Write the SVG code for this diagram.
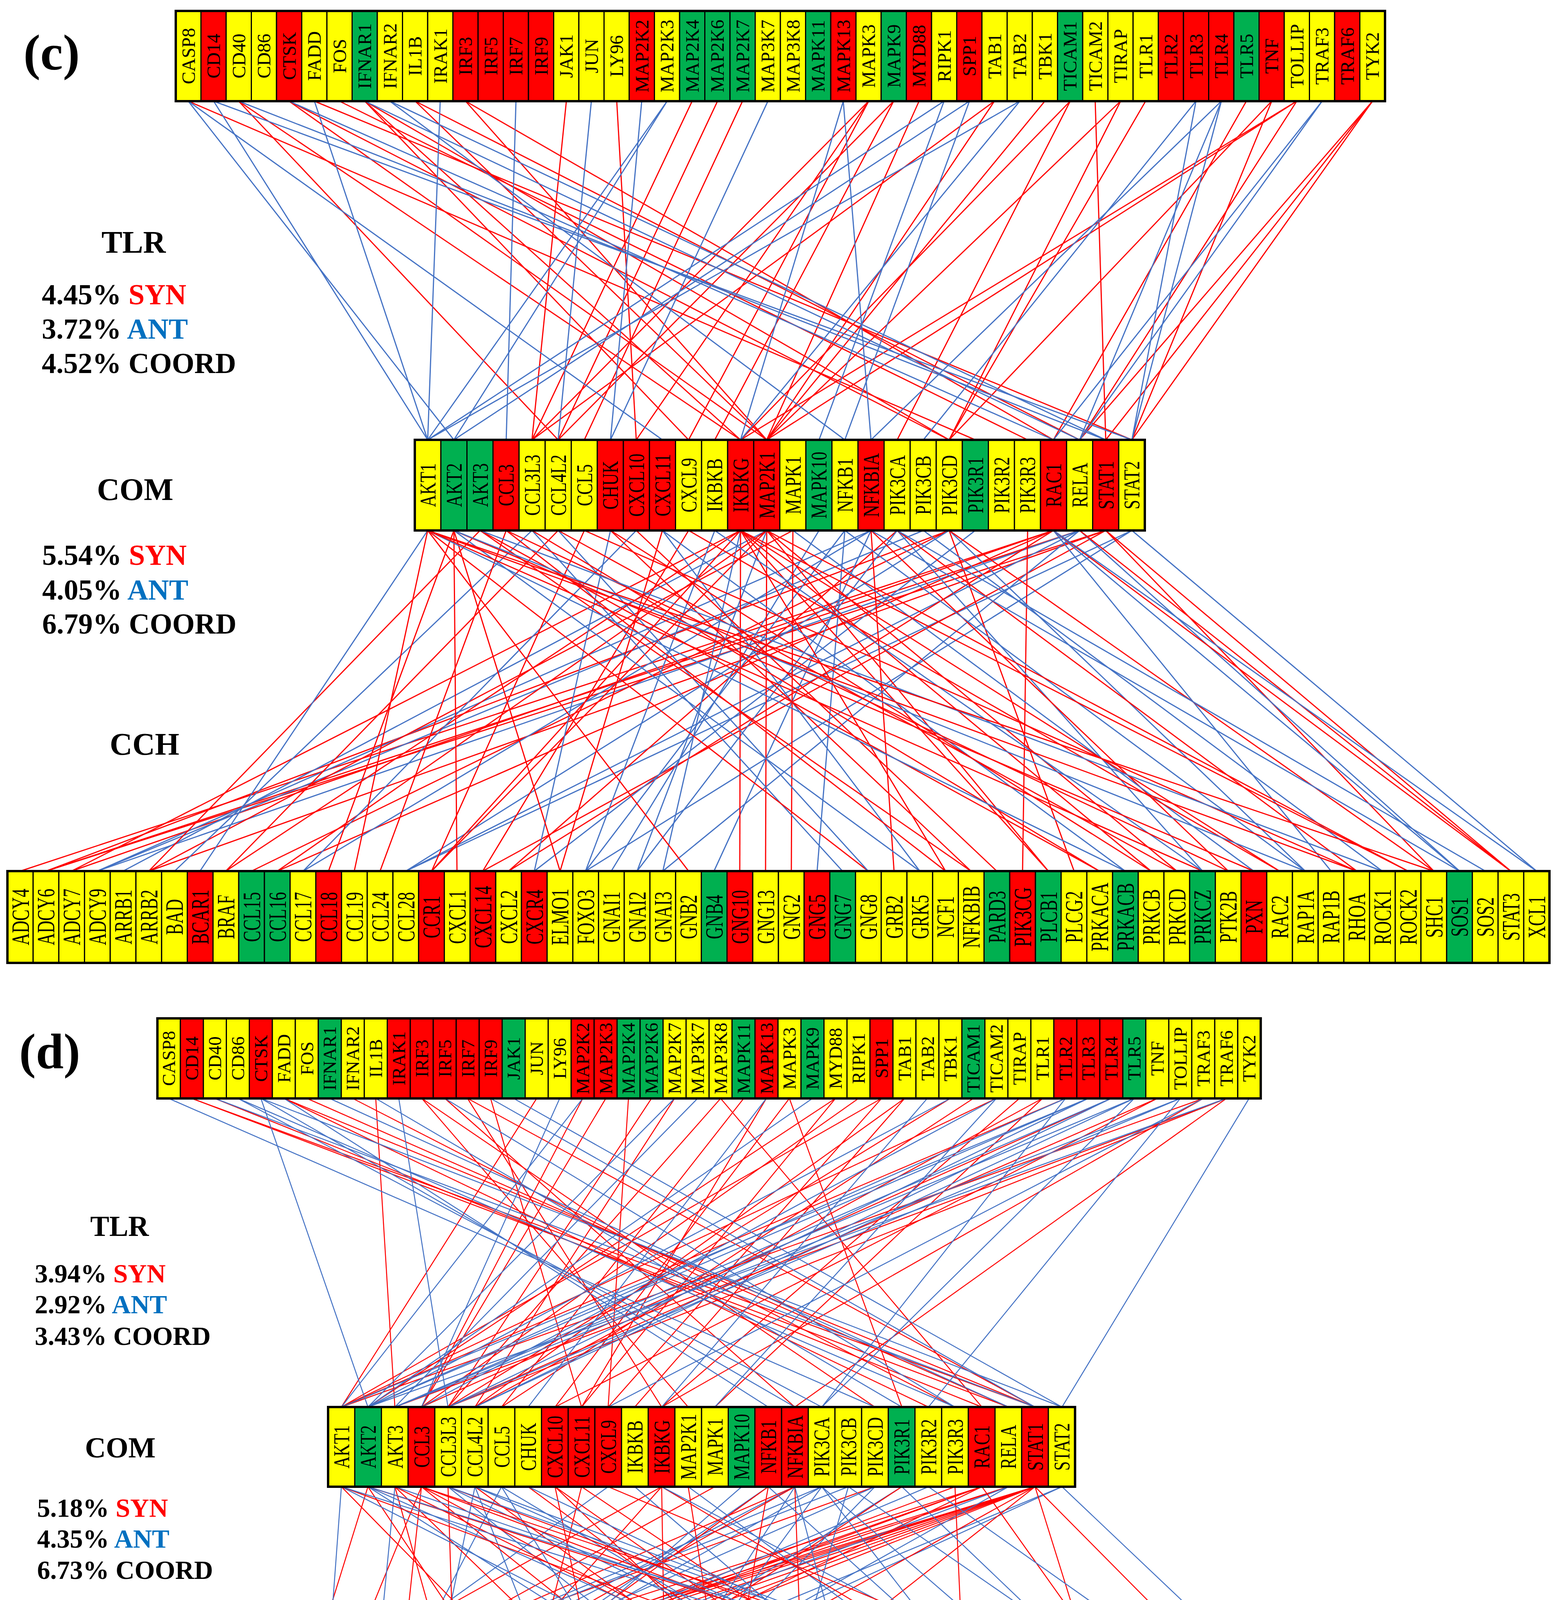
<svg xmlns="http://www.w3.org/2000/svg" width="3994" height="4824" viewBox="0 0 3994 4824">
<defs>
<style>
.y{fill:#FFFF00;stroke:#000;stroke-width:3}.r{fill:#FF0000;stroke:#000;stroke-width:3}.g{fill:#00B050;stroke:#000;stroke-width:3}
.frame{fill:none;stroke:#000;stroke-width:6}
text{font-family:"Liberation Serif","Times New Roman",serif;fill:#000}
.n{text-anchor:middle;dominant-baseline:central}
.t1{font-size:48px}.t2{font-size:58px}.t3{font-size:64px}.t4{font-size:47px}.t5{font-size:58px}.t6{font-size:54px}
.h{font-weight:bold;text-anchor:middle}
.st{font-weight:bold}
.syn{fill:#FF0000}.ant{fill:#0070C0}
line{fill:none}
.s{stroke:#FF0000;stroke-width:3}.a{stroke:#4472C4;stroke-width:3}
.s2{stroke:#FF0000;stroke-width:2.5}.a2{stroke:#4472C4;stroke-width:2.5}
</style>
</defs>

<g id="connectors">
<g id="c-upper">
<line class="s" x1="482" y1="259" x2="2497" y2="1126"/>
<line class="s" x1="611" y1="259" x2="1429" y2="1126"/>
<line class="s" x1="611" y1="259" x2="1896" y2="1126"/>
<line class="s" x1="740" y1="259" x2="1963" y2="1126"/>
<line class="s" x1="740" y1="259" x2="2430" y2="1126"/>
<line class="s" x1="805" y1="259" x2="2898" y2="1126"/>
<line class="s" x1="869" y1="259" x2="2631" y2="1126"/>
<line class="s" x1="934" y1="259" x2="1896" y2="1126"/>
<line class="s" x1="934" y1="259" x2="2430" y2="1126"/>
<line class="s" x1="934" y1="259" x2="1763" y2="1126"/>
<line class="s" x1="1063" y1="259" x2="1963" y2="1126"/>
<line class="s" x1="1063" y1="259" x2="2764" y2="1126"/>
<line class="s" x1="1192" y1="259" x2="1963" y2="1126"/>
<line class="s" x1="1192" y1="259" x2="2697" y2="1126"/>
<line class="s" x1="1450" y1="259" x2="1362" y2="1126"/>
<line class="s" x1="1579" y1="259" x2="1629" y2="1126"/>
<line class="s" x1="1772" y1="259" x2="1362" y2="1126"/>
<line class="s" x1="1837" y1="259" x2="1429" y2="1126"/>
<line class="s" x1="1901" y1="259" x2="1496" y2="1126"/>
<line class="s" x1="2224" y1="259" x2="1763" y2="1126"/>
<line class="s" x1="2224" y1="259" x2="1362" y2="1126"/>
<line class="s" x1="2224" y1="259" x2="1629" y2="1126"/>
<line class="s" x1="2288" y1="259" x2="1830" y2="1126"/>
<line class="s" x1="2288" y1="259" x2="1429" y2="1126"/>
<line class="s" x1="2353" y1="259" x2="1963" y2="1126"/>
<line class="s" x1="2546" y1="259" x2="1963" y2="1126"/>
<line class="s" x1="2546" y1="259" x2="1362" y2="1126"/>
<line class="s" x1="2675" y1="259" x2="1963" y2="1126"/>
<line class="s" x1="2740" y1="259" x2="1896" y2="1126"/>
<line class="s" x1="2740" y1="259" x2="2297" y2="1126"/>
<line class="s" x1="2804" y1="259" x2="2831" y2="1126"/>
<line class="s" x1="2869" y1="259" x2="2430" y2="1126"/>
<line class="s" x1="2869" y1="259" x2="1963" y2="1126"/>
<line class="s" x1="2933" y1="259" x2="2430" y2="1126"/>
<line class="s" x1="3191" y1="259" x2="2697" y2="1126"/>
<line class="s" x1="3256" y1="259" x2="2430" y2="1126"/>
<line class="s" x1="3256" y1="259" x2="2898" y2="1126"/>
<line class="s" x1="3320" y1="259" x2="2764" y2="1126"/>
<line class="s" x1="3320" y1="259" x2="1963" y2="1126"/>
<line class="s" x1="3320" y1="259" x2="1896" y2="1126"/>
<line class="s" x1="3514" y1="259" x2="2831" y2="1126"/>
<line class="s" x1="3514" y1="259" x2="2764" y2="1126"/>
<line class="s" x1="3514" y1="259" x2="2898" y2="1126"/>
<line class="a" x1="482" y1="259" x2="1162" y2="1126"/>
<line class="a" x1="482" y1="259" x2="1696" y2="1126"/>
<line class="a" x1="547" y1="259" x2="1095" y2="1126"/>
<line class="a" x1="547" y1="259" x2="2898" y2="1126"/>
<line class="a" x1="611" y1="259" x2="2831" y2="1126"/>
<line class="a" x1="740" y1="259" x2="2697" y2="1126"/>
<line class="a" x1="805" y1="259" x2="1095" y2="1126"/>
<line class="a" x1="934" y1="259" x2="2764" y2="1126"/>
<line class="a" x1="998" y1="259" x2="2831" y2="1126"/>
<line class="a" x1="998" y1="259" x2="2163" y2="1126"/>
<line class="a" x1="1127" y1="259" x2="1095" y2="1126"/>
<line class="a" x1="1321" y1="259" x2="1296" y2="1126"/>
<line class="a" x1="1514" y1="259" x2="1429" y2="1126"/>
<line class="a" x1="1643" y1="259" x2="1563" y2="1126"/>
<line class="a" x1="1708" y1="259" x2="1162" y2="1126"/>
<line class="a" x1="1708" y1="259" x2="1095" y2="1126"/>
<line class="a" x1="1966" y1="259" x2="1563" y2="1126"/>
<line class="a" x1="2159" y1="259" x2="1896" y2="1126"/>
<line class="a" x1="2159" y1="259" x2="2230" y2="1126"/>
<line class="a" x1="2417" y1="259" x2="1095" y2="1126"/>
<line class="a" x1="2417" y1="259" x2="2097" y2="1126"/>
<line class="a" x1="2482" y1="259" x2="1162" y2="1126"/>
<line class="a" x1="2482" y1="259" x2="2163" y2="1126"/>
<line class="a" x1="2611" y1="259" x2="1896" y2="1126"/>
<line class="a" x1="2611" y1="259" x2="1095" y2="1126"/>
<line class="a" x1="3062" y1="259" x2="2898" y2="1126"/>
<line class="a" x1="3062" y1="259" x2="2364" y2="1126"/>
<line class="a" x1="3127" y1="259" x2="2898" y2="1126"/>
<line class="a" x1="3127" y1="259" x2="2764" y2="1126"/>
<line class="a" x1="3127" y1="259" x2="2230" y2="1126"/>
<line class="a" x1="3385" y1="259" x2="2697" y2="1126"/>
<line class="a" x1="3385" y1="259" x2="2764" y2="1126"/>
</g>
<g id="c-lower">
<line class="s" x1="2697" y1="1358" x2="52" y2="2230"/>
<line class="s" x1="2831" y1="1358" x2="118" y2="2230"/>
<line class="s" x1="2764" y1="1358" x2="118" y2="2230"/>
<line class="s" x1="2430" y1="1358" x2="118" y2="2230"/>
<line class="s" x1="2697" y1="1358" x2="183" y2="2230"/>
<line class="s" x1="1896" y1="1358" x2="183" y2="2230"/>
<line class="a" x1="2364" y1="1358" x2="249" y2="2230"/>
<line class="a" x1="2230" y1="1358" x2="249" y2="2230"/>
<line class="a" x1="2764" y1="1358" x2="249" y2="2230"/>
<line class="a" x1="1963" y1="1358" x2="315" y2="2230"/>
<line class="s" x1="2831" y1="1358" x2="381" y2="2230"/>
<line class="s" x1="2030" y1="1358" x2="381" y2="2230"/>
<line class="s" x1="1229" y1="1358" x2="381" y2="2230"/>
<line class="a" x1="1362" y1="1358" x2="447" y2="2230"/>
<line class="a" x1="1095" y1="1358" x2="512" y2="2230"/>
<line class="s" x1="1896" y1="1358" x2="578" y2="2230"/>
<line class="s" x1="1429" y1="1358" x2="578" y2="2230"/>
<line class="s" x1="2430" y1="1358" x2="644" y2="2230"/>
<line class="s" x1="2697" y1="1358" x2="710" y2="2230"/>
<line class="s" x1="1963" y1="1358" x2="710" y2="2230"/>
<line class="a" x1="2230" y1="1358" x2="776" y2="2230"/>
<line class="a" x1="1629" y1="1358" x2="776" y2="2230"/>
<line class="s" x1="1162" y1="1358" x2="841" y2="2230"/>
<line class="s" x1="1095" y1="1358" x2="907" y2="2230"/>
<line class="s" x1="1296" y1="1358" x2="973" y2="2230"/>
<line class="a" x1="2430" y1="1358" x2="1039" y2="2230"/>
<line class="a" x1="2764" y1="1358" x2="1039" y2="2230"/>
<line class="a" x1="2898" y1="1358" x2="1039" y2="2230"/>
<line class="s" x1="1963" y1="1358" x2="1105" y2="2230"/>
<line class="s" x1="1896" y1="1358" x2="1105" y2="2230"/>
<line class="s" x1="1496" y1="1358" x2="1105" y2="2230"/>
<line class="s" x1="1162" y1="1358" x2="1170" y2="2230"/>
<line class="s" x1="2831" y1="1358" x2="1236" y2="2230"/>
<line class="s" x1="1763" y1="1358" x2="1236" y2="2230"/>
<line class="s" x1="2297" y1="1358" x2="1302" y2="2230"/>
<line class="s" x1="2697" y1="1358" x2="1302" y2="2230"/>
<line class="a" x1="1563" y1="1358" x2="1368" y2="2230"/>
<line class="a" x1="2497" y1="1358" x2="1368" y2="2230"/>
<line class="s" x1="1162" y1="1358" x2="1434" y2="2230"/>
<line class="s" x1="1696" y1="1358" x2="1434" y2="2230"/>
<line class="a" x1="2163" y1="1358" x2="1499" y2="2230"/>
<line class="a" x1="2898" y1="1358" x2="1499" y2="2230"/>
<line class="a" x1="1830" y1="1358" x2="1499" y2="2230"/>
<line class="a" x1="2097" y1="1358" x2="1565" y2="2230"/>
<line class="a" x1="2297" y1="1358" x2="1631" y2="2230"/>
<line class="a" x1="1963" y1="1358" x2="1631" y2="2230"/>
<line class="a" x1="2764" y1="1358" x2="1697" y2="2230"/>
<line class="a" x1="1896" y1="1358" x2="1697" y2="2230"/>
<line class="s" x1="1095" y1="1358" x2="1763" y2="2230"/>
<line class="a" x1="2230" y1="1358" x2="1828" y2="2230"/>
<line class="s" x1="1896" y1="1358" x2="1894" y2="2230"/>
<line class="s" x1="1963" y1="1358" x2="1960" y2="2230"/>
<line class="s" x1="2030" y1="1358" x2="2026" y2="2230"/>
<line class="a" x1="2163" y1="1358" x2="2092" y2="2230"/>
<line class="a" x1="1362" y1="1358" x2="2157" y2="2230"/>
<line class="s" x1="1095" y1="1358" x2="2223" y2="2230"/>
<line class="a" x1="1429" y1="1358" x2="2223" y2="2230"/>
<line class="s" x1="2230" y1="1358" x2="2289" y2="2230"/>
<line class="a" x1="1162" y1="1358" x2="2355" y2="2230"/>
<line class="a" x1="1696" y1="1358" x2="2355" y2="2230"/>
<line class="s" x1="1296" y1="1358" x2="2421" y2="2230"/>
<line class="s" x1="1896" y1="1358" x2="2421" y2="2230"/>
<line class="s" x1="1229" y1="1358" x2="2486" y2="2230"/>
<line class="s" x1="1563" y1="1358" x2="2486" y2="2230"/>
<line class="s" x1="1629" y1="1358" x2="2552" y2="2230"/>
<line class="s" x1="2631" y1="1358" x2="2618" y2="2230"/>
<line class="s" x1="1963" y1="1358" x2="2684" y2="2230"/>
<line class="s" x1="1896" y1="1358" x2="2684" y2="2230"/>
<line class="s" x1="2430" y1="1358" x2="2750" y2="2230"/>
<line class="s" x1="1362" y1="1358" x2="2815" y2="2230"/>
<line class="s" x1="1229" y1="1358" x2="2815" y2="2230"/>
<line class="a" x1="1095" y1="1358" x2="2881" y2="2230"/>
<line class="a" x1="1696" y1="1358" x2="2881" y2="2230"/>
<line class="s" x1="1896" y1="1358" x2="2947" y2="2230"/>
<line class="s" x1="1563" y1="1358" x2="2947" y2="2230"/>
<line class="s" x1="1963" y1="1358" x2="3013" y2="2230"/>
<line class="s" x1="1429" y1="1358" x2="3013" y2="2230"/>
<line class="a" x1="2297" y1="1358" x2="3079" y2="2230"/>
<line class="s" x1="1095" y1="1358" x2="3079" y2="2230"/>
<line class="a" x1="1830" y1="1358" x2="3079" y2="2230"/>
<line class="s" x1="1296" y1="1358" x2="3145" y2="2230"/>
<line class="s" x1="2230" y1="1358" x2="3145" y2="2230"/>
<line class="a" x1="2030" y1="1358" x2="3210" y2="2230"/>
<line class="s" x1="1162" y1="1358" x2="3210" y2="2230"/>
<line class="s" x1="1763" y1="1358" x2="3276" y2="2230"/>
<line class="s" x1="1896" y1="1358" x2="3276" y2="2230"/>
<line class="a" x1="2430" y1="1358" x2="3342" y2="2230"/>
<line class="a" x1="2163" y1="1358" x2="3342" y2="2230"/>
<line class="a" x1="1162" y1="1358" x2="3342" y2="2230"/>
<line class="a" x1="2697" y1="1358" x2="3408" y2="2230"/>
<line class="s" x1="1095" y1="1358" x2="3474" y2="2230"/>
<line class="s" x1="2297" y1="1358" x2="3474" y2="2230"/>
<line class="s" x1="1496" y1="1358" x2="3474" y2="2230"/>
<line class="a" x1="2364" y1="1358" x2="3539" y2="2230"/>
<line class="a" x1="1229" y1="1358" x2="3539" y2="2230"/>
<line class="s" x1="1896" y1="1358" x2="3605" y2="2230"/>
<line class="s" x1="1963" y1="1358" x2="3605" y2="2230"/>
<line class="s" x1="1095" y1="1358" x2="3671" y2="2230"/>
<line class="s" x1="2831" y1="1358" x2="3671" y2="2230"/>
<line class="s" x1="2430" y1="1358" x2="3671" y2="2230"/>
<line class="a" x1="2697" y1="1358" x2="3737" y2="2230"/>
<line class="a" x1="2764" y1="1358" x2="3737" y2="2230"/>
<line class="a" x1="2230" y1="1358" x2="3737" y2="2230"/>
<line class="a" x1="2297" y1="1358" x2="3803" y2="2230"/>
<line class="s" x1="2764" y1="1358" x2="3868" y2="2230"/>
<line class="s" x1="2831" y1="1358" x2="3868" y2="2230"/>
<line class="s" x1="2697" y1="1358" x2="3868" y2="2230"/>
<line class="a" x1="2898" y1="1358" x2="3934" y2="2230"/>
<line class="a" x1="2697" y1="1358" x2="3934" y2="2230"/>
</g>
<g id="d-upper">
<line class="s2" x1="491" y1="2812" x2="2582" y2="3602"/>
<line class="s2" x1="491" y1="2812" x2="2650" y2="3602"/>
<line class="s2" x1="550" y1="2812" x2="2514" y2="3602"/>
<line class="s2" x1="727" y1="2812" x2="2377" y2="3602"/>
<line class="s2" x1="727" y1="2812" x2="2650" y2="3602"/>
<line class="s2" x1="786" y1="2812" x2="2582" y2="3602"/>
<line class="s2" x1="903" y1="2812" x2="2445" y2="3602"/>
<line class="s2" x1="962" y1="2812" x2="1011" y2="3602"/>
<line class="s2" x1="1080" y1="2812" x2="1762" y2="3602"/>
<line class="s2" x1="1080" y1="2812" x2="2240" y2="3602"/>
<line class="s2" x1="1139" y1="2812" x2="2035" y2="3602"/>
<line class="s2" x1="1197" y1="2812" x2="1694" y2="3602"/>
<line class="s2" x1="1197" y1="2812" x2="2650" y2="3602"/>
<line class="s2" x1="1256" y1="2812" x2="1489" y2="3602"/>
<line class="s2" x1="1374" y1="2812" x2="874" y2="3602"/>
<line class="s2" x1="1492" y1="2812" x2="1079" y2="3602"/>
<line class="s2" x1="1551" y1="2812" x2="1079" y2="3602"/>
<line class="s2" x1="1609" y1="2812" x2="1557" y2="3602"/>
<line class="s2" x1="1668" y1="2812" x2="1147" y2="3602"/>
<line class="s2" x1="1727" y1="2812" x2="1216" y2="3602"/>
<line class="s2" x1="1845" y1="2812" x2="1147" y2="3602"/>
<line class="s2" x1="1845" y1="2812" x2="2514" y2="3602"/>
<line class="s2" x1="1904" y1="2812" x2="1284" y2="3602"/>
<line class="s2" x1="1962" y1="2812" x2="1489" y2="3602"/>
<line class="s2" x1="2021" y1="2812" x2="1421" y2="3602"/>
<line class="s2" x1="2021" y1="2812" x2="2309" y2="3602"/>
<line class="s2" x1="2139" y1="2812" x2="1489" y2="3602"/>
<line class="s2" x1="2139" y1="2812" x2="942" y2="3602"/>
<line class="s2" x1="2198" y1="2812" x2="1079" y2="3602"/>
<line class="s2" x1="2257" y1="2812" x2="874" y2="3602"/>
<line class="s2" x1="2257" y1="2812" x2="1557" y2="3602"/>
<line class="s2" x1="2316" y1="2812" x2="1625" y2="3602"/>
<line class="s2" x1="2316" y1="2812" x2="1216" y2="3602"/>
<line class="s2" x1="2433" y1="2812" x2="1147" y2="3602"/>
<line class="s2" x1="2492" y1="2812" x2="1284" y2="3602"/>
<line class="s2" x1="2551" y1="2812" x2="874" y2="3602"/>
<line class="s2" x1="2610" y1="2812" x2="1694" y2="3602"/>
<line class="s2" x1="2669" y1="2812" x2="1830" y2="3602"/>
<line class="s2" x1="2669" y1="2812" x2="1216" y2="3602"/>
<line class="s2" x1="2728" y1="2812" x2="874" y2="3602"/>
<line class="s2" x1="2845" y1="2812" x2="1079" y2="3602"/>
<line class="s2" x1="2963" y1="2812" x2="1147" y2="3602"/>
<line class="s2" x1="2963" y1="2812" x2="1421" y2="3602"/>
<line class="s2" x1="3081" y1="2812" x2="1694" y2="3602"/>
<line class="s2" x1="3081" y1="2812" x2="874" y2="3602"/>
<line class="s2" x1="3140" y1="2812" x2="2035" y2="3602"/>
<line class="s2" x1="3140" y1="2812" x2="1011" y2="3602"/>
<line class="s2" x1="3140" y1="2812" x2="1147" y2="3602"/>
<line class="a2" x1="432" y1="2812" x2="2240" y2="3602"/>
<line class="a2" x1="550" y1="2812" x2="2650" y2="3602"/>
<line class="a2" x1="609" y1="2812" x2="2104" y2="3602"/>
<line class="a2" x1="609" y1="2812" x2="2445" y2="3602"/>
<line class="a2" x1="668" y1="2812" x2="2035" y2="3602"/>
<line class="a2" x1="668" y1="2812" x2="942" y2="3602"/>
<line class="a2" x1="668" y1="2812" x2="2719" y2="3602"/>
<line class="a2" x1="727" y1="2812" x2="1967" y2="3602"/>
<line class="a2" x1="844" y1="2812" x2="2582" y2="3602"/>
<line class="a2" x1="962" y1="2812" x2="2309" y2="3602"/>
<line class="a2" x1="1021" y1="2812" x2="1147" y2="3602"/>
<line class="a2" x1="1139" y1="2812" x2="2445" y2="3602"/>
<line class="a2" x1="1256" y1="2812" x2="2650" y2="3602"/>
<line class="a2" x1="1315" y1="2812" x2="2719" y2="3602"/>
<line class="a2" x1="1433" y1="2812" x2="1079" y2="3602"/>
<line class="a2" x1="1492" y1="2812" x2="874" y2="3602"/>
<line class="a2" x1="1727" y1="2812" x2="942" y2="3602"/>
<line class="a2" x1="1786" y1="2812" x2="1011" y2="3602"/>
<line class="a2" x1="1962" y1="2812" x2="1352" y2="3602"/>
<line class="a2" x1="2080" y1="2812" x2="942" y2="3602"/>
<line class="a2" x1="2374" y1="2812" x2="1694" y2="3602"/>
<line class="a2" x1="2433" y1="2812" x2="942" y2="3602"/>
<line class="a2" x1="2551" y1="2812" x2="1830" y2="3602"/>
<line class="a2" x1="2551" y1="2812" x2="1079" y2="3602"/>
<line class="a2" x1="2728" y1="2812" x2="2104" y2="3602"/>
<line class="a2" x1="2728" y1="2812" x2="942" y2="3602"/>
<line class="a2" x1="2786" y1="2812" x2="942" y2="3602"/>
<line class="a2" x1="2786" y1="2812" x2="1147" y2="3602"/>
<line class="a2" x1="2786" y1="2812" x2="874" y2="3602"/>
<line class="a2" x1="2845" y1="2812" x2="1216" y2="3602"/>
<line class="a2" x1="2845" y1="2812" x2="1011" y2="3602"/>
<line class="a2" x1="2904" y1="2812" x2="2104" y2="3602"/>
<line class="a2" x1="2904" y1="2812" x2="1216" y2="3602"/>
<line class="a2" x1="2904" y1="2812" x2="1011" y2="3602"/>
<line class="a2" x1="3022" y1="2812" x2="2377" y2="3602"/>
<line class="a2" x1="3022" y1="2812" x2="1011" y2="3602"/>
<line class="a2" x1="3022" y1="2812" x2="1147" y2="3602"/>
<line class="a2" x1="3140" y1="2812" x2="942" y2="3602"/>
<line class="a2" x1="3198" y1="2812" x2="2719" y2="3602"/>
<line class="a2" x1="3081" y1="2812" x2="1557" y2="3602"/>
</g>
<g id="d-lower">
<line class="s2" x1="2650" y1="3806" x2="43" y2="4594"/>
<line class="s2" x1="2514" y1="3806" x2="43" y2="4594"/>
<line class="s2" x1="2240" y1="3806" x2="43" y2="4594"/>
<line class="s2" x1="2582" y1="3806" x2="102" y2="4594"/>
<line class="s2" x1="2650" y1="3806" x2="102" y2="4594"/>
<line class="s2" x1="2650" y1="3806" x2="162" y2="4594"/>
<line class="a2" x1="2172" y1="3806" x2="162" y2="4594"/>
<line class="a2" x1="2104" y1="3806" x2="221" y2="4594"/>
<line class="s2" x1="2035" y1="3806" x2="221" y2="4594"/>
<line class="s2" x1="2582" y1="3806" x2="221" y2="4594"/>
<line class="s2" x1="2650" y1="3806" x2="281" y2="4594"/>
<line class="s2" x1="1694" y1="3806" x2="281" y2="4594"/>
<line class="s2" x1="2514" y1="3806" x2="281" y2="4594"/>
<line class="s2" x1="2514" y1="3806" x2="340" y2="4594"/>
<line class="s2" x1="2445" y1="3806" x2="340" y2="4594"/>
<line class="s2" x1="2650" y1="3806" x2="399" y2="4594"/>
<line class="s2" x1="1830" y1="3806" x2="399" y2="4594"/>
<line class="a2" x1="2240" y1="3806" x2="459" y2="4594"/>
<line class="a2" x1="1557" y1="3806" x2="459" y2="4594"/>
<line class="a2" x1="2582" y1="3806" x2="459" y2="4594"/>
<line class="a2" x1="2035" y1="3806" x2="518" y2="4594"/>
<line class="a2" x1="2377" y1="3806" x2="518" y2="4594"/>
<line class="s2" x1="2650" y1="3806" x2="518" y2="4594"/>
<line class="s2" x1="2650" y1="3806" x2="637" y2="4594"/>
<line class="s2" x1="2035" y1="3806" x2="637" y2="4594"/>
<line class="s2" x1="942" y1="3806" x2="697" y2="4594"/>
<line class="a2" x1="2104" y1="3806" x2="697" y2="4594"/>
<line class="s2" x1="1079" y1="3806" x2="756" y2="4594"/>
<line class="a2" x1="1967" y1="3806" x2="816" y2="4594"/>
<line class="a2" x1="874" y1="3806" x2="816" y2="4594"/>
<line class="a2" x1="2719" y1="3806" x2="816" y2="4594"/>
<line class="a2" x1="1284" y1="3806" x2="875" y2="4594"/>
<line class="s2" x1="2514" y1="3806" x2="875" y2="4594"/>
<line class="s2" x1="1967" y1="3806" x2="875" y2="4594"/>
<line class="a2" x1="1011" y1="3806" x2="934" y2="4594"/>
<line class="a2" x1="2719" y1="3806" x2="994" y2="4594"/>
<line class="a2" x1="1899" y1="3806" x2="994" y2="4594"/>
<line class="s2" x1="1079" y1="3806" x2="994" y2="4594"/>
<line class="s2" x1="1694" y1="3806" x2="994" y2="4594"/>
<line class="a2" x1="1216" y1="3806" x2="1053" y2="4594"/>
<line class="a2" x1="2309" y1="3806" x2="1053" y2="4594"/>
<line class="s2" x1="2309" y1="3806" x2="1113" y2="4594"/>
<line class="s2" x1="1147" y1="3806" x2="1172" y2="4594"/>
<line class="a2" x1="2582" y1="3806" x2="1172" y2="4594"/>
<line class="s2" x1="1011" y1="3806" x2="1232" y2="4594"/>
<line class="s2" x1="2650" y1="3806" x2="1232" y2="4594"/>
<line class="s2" x1="1489" y1="3806" x2="1291" y2="4594"/>
<line class="s2" x1="942" y1="3806" x2="1470" y2="4594"/>
<line class="a2" x1="2240" y1="3806" x2="1470" y2="4594"/>
<line class="a2" x1="1216" y1="3806" x2="1529" y2="4594"/>
<line class="a2" x1="2035" y1="3806" x2="1529" y2="4594"/>
<line class="a2" x1="2104" y1="3806" x2="1529" y2="4594"/>
<line class="s2" x1="1421" y1="3806" x2="1588" y2="4594"/>
<line class="s2" x1="874" y1="3806" x2="1648" y2="4594"/>
<line class="s2" x1="2650" y1="3806" x2="1648" y2="4594"/>
<line class="s2" x1="1694" y1="3806" x2="1707" y2="4594"/>
<line class="a2" x1="1284" y1="3806" x2="1767" y2="4594"/>
<line class="s2" x1="1967" y1="3806" x2="1826" y2="4594"/>
<line class="s2" x1="1011" y1="3806" x2="1826" y2="4594"/>
<line class="s2" x1="1762" y1="3806" x2="1886" y2="4594"/>
<line class="a2" x1="2172" y1="3806" x2="1945" y2="4594"/>
<line class="s2" x1="1079" y1="3806" x2="2064" y2="4594"/>
<line class="s2" x1="2035" y1="3806" x2="2064" y2="4594"/>
<line class="a2" x1="1147" y1="3806" x2="2124" y2="4594"/>
<line class="a2" x1="942" y1="3806" x2="2183" y2="4594"/>
<line class="s2" x1="1421" y1="3806" x2="2243" y2="4594"/>
<line class="a2" x1="2035" y1="3806" x2="2243" y2="4594"/>
<line class="s2" x1="1216" y1="3806" x2="2302" y2="4594"/>
<line class="s2" x1="1352" y1="3806" x2="2421" y2="4594"/>
<line class="a2" x1="874" y1="3806" x2="2421" y2="4594"/>
<line class="s2" x1="2445" y1="3806" x2="2480" y2="4594"/>
<line class="s2" x1="1079" y1="3806" x2="2540" y2="4594"/>
<line class="s2" x1="1421" y1="3806" x2="2540" y2="4594"/>
<line class="a2" x1="1625" y1="3806" x2="2540" y2="4594"/>
<line class="s2" x1="1011" y1="3806" x2="2599" y2="4594"/>
<line class="a2" x1="1284" y1="3806" x2="2599" y2="4594"/>
<line class="s2" x1="1489" y1="3806" x2="2659" y2="4594"/>
<line class="a2" x1="942" y1="3806" x2="2718" y2="4594"/>
<line class="a2" x1="2104" y1="3806" x2="2718" y2="4594"/>
<line class="a2" x1="1147" y1="3806" x2="2777" y2="4594"/>
<line class="a2" x1="1967" y1="3806" x2="2837" y2="4594"/>
<line class="a2" x1="1762" y1="3806" x2="2837" y2="4594"/>
<line class="s2" x1="2650" y1="3806" x2="2896" y2="4594"/>
<line class="s2" x1="874" y1="3806" x2="3015" y2="4594"/>
<line class="s2" x1="1694" y1="3806" x2="3015" y2="4594"/>
<line class="a2" x1="2104" y1="3806" x2="3015" y2="4594"/>
<line class="a2" x1="1216" y1="3806" x2="3015" y2="4594"/>
<line class="a2" x1="1352" y1="3806" x2="3015" y2="4594"/>
<line class="s2" x1="2514" y1="3806" x2="3075" y2="4594"/>
<line class="a2" x1="2309" y1="3806" x2="3134" y2="4594"/>
<line class="s2" x1="1079" y1="3806" x2="3194" y2="4594"/>
<line class="a2" x1="1694" y1="3806" x2="3194" y2="4594"/>
<line class="s2" x1="1147" y1="3806" x2="3253" y2="4594"/>
<line class="a2" x1="1011" y1="3806" x2="3312" y2="4594"/>
<line class="a2" x1="2172" y1="3806" x2="3312" y2="4594"/>
<line class="a2" x1="1216" y1="3806" x2="3312" y2="4594"/>
<line class="a2" x1="1147" y1="3806" x2="3372" y2="4594"/>
<line class="a2" x1="874" y1="3806" x2="3372" y2="4594"/>
<line class="s2" x1="942" y1="3806" x2="3431" y2="4594"/>
<line class="s2" x1="2650" y1="3806" x2="3431" y2="4594"/>
<line class="s2" x1="1557" y1="3806" x2="3431" y2="4594"/>
<line class="s2" x1="1079" y1="3806" x2="3431" y2="4594"/>
<line class="a2" x1="2377" y1="3806" x2="3491" y2="4594"/>
<line class="a2" x1="942" y1="3806" x2="3491" y2="4594"/>
<line class="a2" x1="2719" y1="3806" x2="3550" y2="4594"/>
</g>
</g>

<g id="labels">
<text x="60" y="178" font-size="130" font-weight="bold">(c)</text>
<text class="h" x="342" y="647" font-size="80">TLR</text>
<text class="st" x="107" y="779" font-size="74">4.45% <tspan class="syn">SYN</tspan></text>
<text class="st" x="107" y="867" font-size="74">3.72% <tspan class="ant">ANT</tspan></text>
<text class="st" x="107" y="955" font-size="74">4.52% COORD</text>
<text class="h" x="346" y="1280" font-size="80">COM</text>
<text class="st" x="108" y="1446" font-size="74">5.54% <tspan class="syn">SYN</tspan></text>
<text class="st" x="108" y="1535" font-size="74">4.05% <tspan class="ant">ANT</tspan></text>
<text class="st" x="108" y="1622" font-size="74">6.79% COORD</text>
<text class="h" x="370" y="1932" font-size="80">CCH</text>
<text x="49" y="2734" font-size="128" font-weight="bold">(d)</text>
<text class="h" x="306" y="3164" font-size="73">TLR</text>
<text class="st" x="89" y="3283" font-size="67">3.94% <tspan class="syn">SYN</tspan></text>
<text class="st" x="89" y="3362" font-size="67">2.92% <tspan class="ant">ANT</tspan></text>
<text class="st" x="89" y="3443" font-size="67">3.43% COORD</text>
<text class="h" x="308" y="3731" font-size="74">COM</text>
<text class="st" x="95" y="3883" font-size="67">5.18% <tspan class="syn">SYN</tspan></text>
<text class="st" x="95" y="3962" font-size="67">4.35% <tspan class="ant">ANT</tspan></text>
<text class="st" x="95" y="4042" font-size="67">6.73% COORD</text>
<text class="h" x="333" y="4324" font-size="74">CCH</text>
</g>

<g id="c-tlr">
<g id="c-CASP8"><rect class="y" x="450" y="28" width="64.5" height="231"/><text class="n t1" transform="translate(482.3 143.5) rotate(-90)">CASP8</text></g>
<g id="c-CD14"><rect class="r" x="514.5" y="28" width="64.5" height="231"/><text class="n t1" transform="translate(546.8 143.5) rotate(-90)">CD14</text></g>
<g id="c-CD40"><rect class="y" x="579" y="28" width="64.5" height="231"/><text class="n t1" transform="translate(611.3 143.5) rotate(-90)">CD40</text></g>
<g id="c-CD86"><rect class="y" x="643.5" y="28" width="64.5" height="231"/><text class="n t1" transform="translate(675.8 143.5) rotate(-90)">CD86</text></g>
<g id="c-CTSK"><rect class="r" x="708" y="28" width="64.5" height="231"/><text class="n t1" transform="translate(740.3 143.5) rotate(-90)">CTSK</text></g>
<g id="c-FADD"><rect class="y" x="772.5" y="28" width="64.5" height="231"/><text class="n t1" transform="translate(804.8 143.5) rotate(-90)">FADD</text></g>
<g id="c-FOS"><rect class="y" x="837" y="28" width="64.5" height="231"/><text class="n t1" transform="translate(869.3 143.5) rotate(-90)">FOS</text></g>
<g id="c-IFNAR1"><rect class="g" x="901.5" y="28" width="64.5" height="231"/><text class="n t1" transform="translate(933.8 143.5) rotate(-90)">IFNAR1</text></g>
<g id="c-IFNAR2"><rect class="y" x="966" y="28" width="64.5" height="231"/><text class="n t1" transform="translate(998.3 143.5) rotate(-90)">IFNAR2</text></g>
<g id="c-IL1B"><rect class="y" x="1030.5" y="28" width="64.5" height="231"/><text class="n t1" transform="translate(1062.8 143.5) rotate(-90)">IL1B</text></g>
<g id="c-IRAK1"><rect class="y" x="1095" y="28" width="64.5" height="231"/><text class="n t1" transform="translate(1127.3 143.5) rotate(-90)">IRAK1</text></g>
<g id="c-IRF3"><rect class="r" x="1159.5" y="28" width="64.5" height="231"/><text class="n t1" transform="translate(1191.8 143.5) rotate(-90)">IRF3</text></g>
<g id="c-IRF5"><rect class="r" x="1224" y="28" width="64.5" height="231"/><text class="n t1" transform="translate(1256.3 143.5) rotate(-90)">IRF5</text></g>
<g id="c-IRF7"><rect class="r" x="1288.5" y="28" width="64.5" height="231"/><text class="n t1" transform="translate(1320.8 143.5) rotate(-90)">IRF7</text></g>
<g id="c-IRF9"><rect class="r" x="1353" y="28" width="64.5" height="231"/><text class="n t1" transform="translate(1385.3 143.5) rotate(-90)">IRF9</text></g>
<g id="c-JAK1"><rect class="y" x="1417.5" y="28" width="64.5" height="231"/><text class="n t1" transform="translate(1449.8 143.5) rotate(-90)">JAK1</text></g>
<g id="c-JUN"><rect class="y" x="1482" y="28" width="64.5" height="231"/><text class="n t1" transform="translate(1514.3 143.5) rotate(-90)">JUN</text></g>
<g id="c-LY96"><rect class="y" x="1546.5" y="28" width="64.5" height="231"/><text class="n t1" transform="translate(1578.8 143.5) rotate(-90)">LY96</text></g>
<g id="c-MAP2K2"><rect class="r" x="1611" y="28" width="64.5" height="231"/><text class="n t1" transform="translate(1643.3 143.5) rotate(-90)">MAP2K2</text></g>
<g id="c-MAP2K3"><rect class="y" x="1675.5" y="28" width="64.5" height="231"/><text class="n t1" transform="translate(1707.8 143.5) rotate(-90)">MAP2K3</text></g>
<g id="c-MAP2K4"><rect class="g" x="1740" y="28" width="64.5" height="231"/><text class="n t1" transform="translate(1772.3 143.5) rotate(-90)">MAP2K4</text></g>
<g id="c-MAP2K6"><rect class="g" x="1804.5" y="28" width="64.5" height="231"/><text class="n t1" transform="translate(1836.8 143.5) rotate(-90)">MAP2K6</text></g>
<g id="c-MAP2K7"><rect class="g" x="1869" y="28" width="64.5" height="231"/><text class="n t1" transform="translate(1901.3 143.5) rotate(-90)">MAP2K7</text></g>
<g id="c-MAP3K7"><rect class="y" x="1933.5" y="28" width="64.5" height="231"/><text class="n t1" transform="translate(1965.8 143.5) rotate(-90)">MAP3K7</text></g>
<g id="c-MAP3K8"><rect class="y" x="1998" y="28" width="64.5" height="231"/><text class="n t1" transform="translate(2030.3 143.5) rotate(-90)">MAP3K8</text></g>
<g id="c-MAPK11"><rect class="g" x="2062.5" y="28" width="64.5" height="231"/><text class="n t1" transform="translate(2094.8 143.5) rotate(-90)">MAPK11</text></g>
<g id="c-MAPK13"><rect class="r" x="2127" y="28" width="64.5" height="231"/><text class="n t1" transform="translate(2159.3 143.5) rotate(-90)">MAPK13</text></g>
<g id="c-MAPK3"><rect class="y" x="2191.5" y="28" width="64.5" height="231"/><text class="n t1" transform="translate(2223.8 143.5) rotate(-90)">MAPK3</text></g>
<g id="c-MAPK9"><rect class="g" x="2256" y="28" width="64.5" height="231"/><text class="n t1" transform="translate(2288.3 143.5) rotate(-90)">MAPK9</text></g>
<g id="c-MYD88"><rect class="r" x="2320.5" y="28" width="64.5" height="231"/><text class="n t1" transform="translate(2352.8 143.5) rotate(-90)">MYD88</text></g>
<g id="c-RIPK1"><rect class="y" x="2385" y="28" width="64.5" height="231"/><text class="n t1" transform="translate(2417.3 143.5) rotate(-90)">RIPK1</text></g>
<g id="c-SPP1"><rect class="r" x="2449.5" y="28" width="64.5" height="231"/><text class="n t1" transform="translate(2481.8 143.5) rotate(-90)">SPP1</text></g>
<g id="c-TAB1"><rect class="y" x="2514" y="28" width="64.5" height="231"/><text class="n t1" transform="translate(2546.3 143.5) rotate(-90)">TAB1</text></g>
<g id="c-TAB2"><rect class="y" x="2578.5" y="28" width="64.5" height="231"/><text class="n t1" transform="translate(2610.8 143.5) rotate(-90)">TAB2</text></g>
<g id="c-TBK1"><rect class="y" x="2643" y="28" width="64.5" height="231"/><text class="n t1" transform="translate(2675.3 143.5) rotate(-90)">TBK1</text></g>
<g id="c-TICAM1"><rect class="g" x="2707.5" y="28" width="64.5" height="231"/><text class="n t1" transform="translate(2739.8 143.5) rotate(-90)">TICAM1</text></g>
<g id="c-TICAM2"><rect class="y" x="2772" y="28" width="64.5" height="231"/><text class="n t1" transform="translate(2804.3 143.5) rotate(-90)">TICAM2</text></g>
<g id="c-TIRAP"><rect class="y" x="2836.5" y="28" width="64.5" height="231"/><text class="n t1" transform="translate(2868.8 143.5) rotate(-90)">TIRAP</text></g>
<g id="c-TLR1"><rect class="y" x="2901" y="28" width="64.5" height="231"/><text class="n t1" transform="translate(2933.3 143.5) rotate(-90)">TLR1</text></g>
<g id="c-TLR2"><rect class="r" x="2965.5" y="28" width="64.5" height="231"/><text class="n t1" transform="translate(2997.8 143.5) rotate(-90)">TLR2</text></g>
<g id="c-TLR3"><rect class="r" x="3030" y="28" width="64.5" height="231"/><text class="n t1" transform="translate(3062.3 143.5) rotate(-90)">TLR3</text></g>
<g id="c-TLR4"><rect class="r" x="3094.5" y="28" width="64.5" height="231"/><text class="n t1" transform="translate(3126.8 143.5) rotate(-90)">TLR4</text></g>
<g id="c-TLR5"><rect class="g" x="3159" y="28" width="64.5" height="231"/><text class="n t1" transform="translate(3191.3 143.5) rotate(-90)">TLR5</text></g>
<g id="c-TNF"><rect class="r" x="3223.5" y="28" width="64.5" height="231"/><text class="n t1" transform="translate(3255.8 143.5) rotate(-90)">TNF</text></g>
<g id="c-TOLLIP"><rect class="y" x="3288" y="28" width="64.5" height="231"/><text class="n t1" transform="translate(3320.3 143.5) rotate(-90)">TOLLIP</text></g>
<g id="c-TRAF3"><rect class="y" x="3352.5" y="28" width="64.5" height="231"/><text class="n t1" transform="translate(3384.8 143.5) rotate(-90)">TRAF3</text></g>
<g id="c-TRAF6"><rect class="r" x="3417" y="28" width="64.5" height="231"/><text class="n t1" transform="translate(3449.3 143.5) rotate(-90)">TRAF6</text></g>
<g id="c-TYK2"><rect class="y" x="3481.5" y="28" width="64.5" height="231"/><text class="n t1" transform="translate(3513.8 143.5) rotate(-90)">TYK2</text></g>
<rect class="frame" x="450" y="28" width="3096" height="231"/>
</g>

<g id="c-com">
<g id="c-AKT1"><rect class="y" x="1062" y="1126" width="66.75" height="232"/><text class="n t2" transform="translate(1095.4 1242) rotate(-90) scale(0.76 1)">AKT1</text></g>
<g id="c-AKT2"><rect class="g" x="1128.75" y="1126" width="66.75" height="232"/><text class="n t2" transform="translate(1162.1 1242) rotate(-90) scale(0.76 1)">AKT2</text></g>
<g id="c-AKT3"><rect class="g" x="1195.5" y="1126" width="66.75" height="232"/><text class="n t2" transform="translate(1228.9 1242) rotate(-90) scale(0.76 1)">AKT3</text></g>
<g id="c-CCL3"><rect class="r" x="1262.25" y="1126" width="66.75" height="232"/><text class="n t2" transform="translate(1295.6 1242) rotate(-90) scale(0.76 1)">CCL3</text></g>
<g id="c-CCL3L3"><rect class="y" x="1329" y="1126" width="66.75" height="232"/><text class="n t2" transform="translate(1362.4 1242) rotate(-90) scale(0.76 1)">CCL3L3</text></g>
<g id="c-CCL4L2"><rect class="y" x="1395.75" y="1126" width="66.75" height="232"/><text class="n t2" transform="translate(1429.1 1242) rotate(-90) scale(0.76 1)">CCL4L2</text></g>
<g id="c-CCL5"><rect class="y" x="1462.5" y="1126" width="66.75" height="232"/><text class="n t2" transform="translate(1495.9 1242) rotate(-90) scale(0.76 1)">CCL5</text></g>
<g id="c-CHUK"><rect class="r" x="1529.25" y="1126" width="66.75" height="232"/><text class="n t2" transform="translate(1562.6 1242) rotate(-90) scale(0.76 1)">CHUK</text></g>
<g id="c-CXCL10"><rect class="r" x="1596" y="1126" width="66.75" height="232"/><text class="n t2" transform="translate(1629.4 1242) rotate(-90) scale(0.76 1)">CXCL10</text></g>
<g id="c-CXCL11"><rect class="r" x="1662.75" y="1126" width="66.75" height="232"/><text class="n t2" transform="translate(1696.1 1242) rotate(-90) scale(0.76 1)">CXCL11</text></g>
<g id="c-CXCL9"><rect class="y" x="1729.5" y="1126" width="66.75" height="232"/><text class="n t2" transform="translate(1762.9 1242) rotate(-90) scale(0.76 1)">CXCL9</text></g>
<g id="c-IKBKB"><rect class="y" x="1796.25" y="1126" width="66.75" height="232"/><text class="n t2" transform="translate(1829.6 1242) rotate(-90) scale(0.76 1)">IKBKB</text></g>
<g id="c-IKBKG"><rect class="r" x="1863" y="1126" width="66.75" height="232"/><text class="n t2" transform="translate(1896.4 1242) rotate(-90) scale(0.76 1)">IKBKG</text></g>
<g id="c-MAP2K1"><rect class="r" x="1929.75" y="1126" width="66.75" height="232"/><text class="n t2" transform="translate(1963.1 1242) rotate(-90) scale(0.76 1)">MAP2K1</text></g>
<g id="c-MAPK1"><rect class="y" x="1996.5" y="1126" width="66.75" height="232"/><text class="n t2" transform="translate(2029.9 1242) rotate(-90) scale(0.76 1)">MAPK1</text></g>
<g id="c-MAPK10"><rect class="g" x="2063.25" y="1126" width="66.75" height="232"/><text class="n t2" transform="translate(2096.6 1242) rotate(-90) scale(0.76 1)">MAPK10</text></g>
<g id="c-NFKB1"><rect class="y" x="2130" y="1126" width="66.75" height="232"/><text class="n t2" transform="translate(2163.4 1242) rotate(-90) scale(0.76 1)">NFKB1</text></g>
<g id="c-NFKBIA"><rect class="r" x="2196.75" y="1126" width="66.75" height="232"/><text class="n t2" transform="translate(2230.1 1242) rotate(-90) scale(0.76 1)">NFKBIA</text></g>
<g id="c-PIK3CA"><rect class="y" x="2263.5" y="1126" width="66.75" height="232"/><text class="n t2" transform="translate(2296.9 1242) rotate(-90) scale(0.76 1)">PIK3CA</text></g>
<g id="c-PIK3CB"><rect class="y" x="2330.25" y="1126" width="66.75" height="232"/><text class="n t2" transform="translate(2363.6 1242) rotate(-90) scale(0.76 1)">PIK3CB</text></g>
<g id="c-PIK3CD"><rect class="y" x="2397" y="1126" width="66.75" height="232"/><text class="n t2" transform="translate(2430.4 1242) rotate(-90) scale(0.76 1)">PIK3CD</text></g>
<g id="c-PIK3R1"><rect class="g" x="2463.75" y="1126" width="66.75" height="232"/><text class="n t2" transform="translate(2497.1 1242) rotate(-90) scale(0.76 1)">PIK3R1</text></g>
<g id="c-PIK3R2"><rect class="y" x="2530.5" y="1126" width="66.75" height="232"/><text class="n t2" transform="translate(2563.9 1242) rotate(-90) scale(0.76 1)">PIK3R2</text></g>
<g id="c-PIK3R3"><rect class="y" x="2597.25" y="1126" width="66.75" height="232"/><text class="n t2" transform="translate(2630.6 1242) rotate(-90) scale(0.76 1)">PIK3R3</text></g>
<g id="c-RAC1"><rect class="r" x="2664" y="1126" width="66.75" height="232"/><text class="n t2" transform="translate(2697.4 1242) rotate(-90) scale(0.76 1)">RAC1</text></g>
<g id="c-RELA"><rect class="y" x="2730.75" y="1126" width="66.75" height="232"/><text class="n t2" transform="translate(2764.1 1242) rotate(-90) scale(0.76 1)">RELA</text></g>
<g id="c-STAT1"><rect class="r" x="2797.5" y="1126" width="66.75" height="232"/><text class="n t2" transform="translate(2830.9 1242) rotate(-90) scale(0.76 1)">STAT1</text></g>
<g id="c-STAT2"><rect class="y" x="2864.25" y="1126" width="66.75" height="232"/><text class="n t2" transform="translate(2897.6 1242) rotate(-90) scale(0.76 1)">STAT2</text></g>
<rect class="frame" x="1062" y="1126" width="1869" height="232"/>
</g>

<g id="c-cch">
<g id="c-ADCY4"><rect class="y" x="19" y="2230" width="65.8" height="235"/><text class="n t3" transform="translate(51.9 2347.5) rotate(-90) scale(0.68 1)">ADCY4</text></g>
<g id="c-ADCY6"><rect class="y" x="84.8" y="2230" width="65.8" height="235"/><text class="n t3" transform="translate(117.7 2347.5) rotate(-90) scale(0.68 1)">ADCY6</text></g>
<g id="c-ADCY7"><rect class="y" x="150.6" y="2230" width="65.8" height="235"/><text class="n t3" transform="translate(183.5 2347.5) rotate(-90) scale(0.68 1)">ADCY7</text></g>
<g id="c-ADCY9"><rect class="y" x="216.4" y="2230" width="65.8" height="235"/><text class="n t3" transform="translate(249.3 2347.5) rotate(-90) scale(0.68 1)">ADCY9</text></g>
<g id="c-ARRB1"><rect class="y" x="282.2" y="2230" width="65.8" height="235"/><text class="n t3" transform="translate(315.1 2347.5) rotate(-90) scale(0.68 1)">ARRB1</text></g>
<g id="c-ARRB2"><rect class="y" x="348" y="2230" width="65.8" height="235"/><text class="n t3" transform="translate(380.9 2347.5) rotate(-90) scale(0.68 1)">ARRB2</text></g>
<g id="c-BAD"><rect class="y" x="413.8" y="2230" width="65.8" height="235"/><text class="n t3" transform="translate(446.7 2347.5) rotate(-90) scale(0.68 1)">BAD</text></g>
<g id="c-BCAR1"><rect class="r" x="479.6" y="2230" width="65.8" height="235"/><text class="n t3" transform="translate(512.5 2347.5) rotate(-90) scale(0.68 1)">BCAR1</text></g>
<g id="c-BRAF"><rect class="y" x="545.4" y="2230" width="65.8" height="235"/><text class="n t3" transform="translate(578.3 2347.5) rotate(-90) scale(0.68 1)">BRAF</text></g>
<g id="c-CCL15"><rect class="g" x="611.2" y="2230" width="65.8" height="235"/><text class="n t3" transform="translate(644.1 2347.5) rotate(-90) scale(0.68 1)">CCL15</text></g>
<g id="c-CCL16"><rect class="g" x="677" y="2230" width="65.8" height="235"/><text class="n t3" transform="translate(709.9 2347.5) rotate(-90) scale(0.68 1)">CCL16</text></g>
<g id="c-CCL17"><rect class="y" x="742.8" y="2230" width="65.8" height="235"/><text class="n t3" transform="translate(775.7 2347.5) rotate(-90) scale(0.68 1)">CCL17</text></g>
<g id="c-CCL18"><rect class="r" x="808.6" y="2230" width="65.8" height="235"/><text class="n t3" transform="translate(841.5 2347.5) rotate(-90) scale(0.68 1)">CCL18</text></g>
<g id="c-CCL19"><rect class="y" x="874.4" y="2230" width="65.8" height="235"/><text class="n t3" transform="translate(907.3 2347.5) rotate(-90) scale(0.68 1)">CCL19</text></g>
<g id="c-CCL24"><rect class="y" x="940.2" y="2230" width="65.8" height="235"/><text class="n t3" transform="translate(973.1 2347.5) rotate(-90) scale(0.68 1)">CCL24</text></g>
<g id="c-CCL28"><rect class="y" x="1006" y="2230" width="65.8" height="235"/><text class="n t3" transform="translate(1038.9 2347.5) rotate(-90) scale(0.68 1)">CCL28</text></g>
<g id="c-CCR1"><rect class="r" x="1071.8" y="2230" width="65.8" height="235"/><text class="n t3" transform="translate(1104.7 2347.5) rotate(-90) scale(0.68 1)">CCR1</text></g>
<g id="c-CXCL1"><rect class="y" x="1137.6" y="2230" width="65.8" height="235"/><text class="n t3" transform="translate(1170.5 2347.5) rotate(-90) scale(0.68 1)">CXCL1</text></g>
<g id="c-CXCL14"><rect class="r" x="1203.4" y="2230" width="65.8" height="235"/><text class="n t3" transform="translate(1236.3 2347.5) rotate(-90) scale(0.68 1)">CXCL14</text></g>
<g id="c-CXCL2"><rect class="y" x="1269.2" y="2230" width="65.8" height="235"/><text class="n t3" transform="translate(1302.1 2347.5) rotate(-90) scale(0.68 1)">CXCL2</text></g>
<g id="c-CXCR4"><rect class="r" x="1335" y="2230" width="65.8" height="235"/><text class="n t3" transform="translate(1367.9 2347.5) rotate(-90) scale(0.68 1)">CXCR4</text></g>
<g id="c-ELMO1"><rect class="y" x="1400.8" y="2230" width="65.8" height="235"/><text class="n t3" transform="translate(1433.7 2347.5) rotate(-90) scale(0.68 1)">ELMO1</text></g>
<g id="c-FOXO3"><rect class="y" x="1466.6" y="2230" width="65.8" height="235"/><text class="n t3" transform="translate(1499.5 2347.5) rotate(-90) scale(0.68 1)">FOXO3</text></g>
<g id="c-GNAI1"><rect class="y" x="1532.4" y="2230" width="65.8" height="235"/><text class="n t3" transform="translate(1565.3 2347.5) rotate(-90) scale(0.68 1)">GNAI1</text></g>
<g id="c-GNAI2"><rect class="y" x="1598.2" y="2230" width="65.8" height="235"/><text class="n t3" transform="translate(1631.1 2347.5) rotate(-90) scale(0.68 1)">GNAI2</text></g>
<g id="c-GNAI3"><rect class="y" x="1664" y="2230" width="65.8" height="235"/><text class="n t3" transform="translate(1696.9 2347.5) rotate(-90) scale(0.68 1)">GNAI3</text></g>
<g id="c-GNB2"><rect class="y" x="1729.8" y="2230" width="65.8" height="235"/><text class="n t3" transform="translate(1762.7 2347.5) rotate(-90) scale(0.68 1)">GNB2</text></g>
<g id="c-GNB4"><rect class="g" x="1795.6" y="2230" width="65.8" height="235"/><text class="n t3" transform="translate(1828.5 2347.5) rotate(-90) scale(0.68 1)">GNB4</text></g>
<g id="c-GNG10"><rect class="r" x="1861.4" y="2230" width="65.8" height="235"/><text class="n t3" transform="translate(1894.3 2347.5) rotate(-90) scale(0.68 1)">GNG10</text></g>
<g id="c-GNG13"><rect class="y" x="1927.2" y="2230" width="65.8" height="235"/><text class="n t3" transform="translate(1960.1 2347.5) rotate(-90) scale(0.68 1)">GNG13</text></g>
<g id="c-GNG2"><rect class="y" x="1993" y="2230" width="65.8" height="235"/><text class="n t3" transform="translate(2025.9 2347.5) rotate(-90) scale(0.68 1)">GNG2</text></g>
<g id="c-GNG5"><rect class="r" x="2058.8" y="2230" width="65.8" height="235"/><text class="n t3" transform="translate(2091.7 2347.5) rotate(-90) scale(0.68 1)">GNG5</text></g>
<g id="c-GNG7"><rect class="g" x="2124.6" y="2230" width="65.8" height="235"/><text class="n t3" transform="translate(2157.5 2347.5) rotate(-90) scale(0.68 1)">GNG7</text></g>
<g id="c-GNG8"><rect class="y" x="2190.4" y="2230" width="65.8" height="235"/><text class="n t3" transform="translate(2223.3 2347.5) rotate(-90) scale(0.68 1)">GNG8</text></g>
<g id="c-GRB2"><rect class="y" x="2256.2" y="2230" width="65.8" height="235"/><text class="n t3" transform="translate(2289.1 2347.5) rotate(-90) scale(0.68 1)">GRB2</text></g>
<g id="c-GRK5"><rect class="y" x="2322" y="2230" width="65.8" height="235"/><text class="n t3" transform="translate(2354.9 2347.5) rotate(-90) scale(0.68 1)">GRK5</text></g>
<g id="c-NCF1"><rect class="y" x="2387.8" y="2230" width="65.8" height="235"/><text class="n t3" transform="translate(2420.7 2347.5) rotate(-90) scale(0.68 1)">NCF1</text></g>
<g id="c-NFKBIB"><rect class="y" x="2453.6" y="2230" width="65.8" height="235"/><text class="n t3" transform="translate(2486.5 2347.5) rotate(-90) scale(0.68 1)">NFKBIB</text></g>
<g id="c-PARD3"><rect class="g" x="2519.4" y="2230" width="65.8" height="235"/><text class="n t3" transform="translate(2552.3 2347.5) rotate(-90) scale(0.68 1)">PARD3</text></g>
<g id="c-PIK3CG"><rect class="r" x="2585.2" y="2230" width="65.8" height="235"/><text class="n t3" transform="translate(2618.1 2347.5) rotate(-90) scale(0.68 1)">PIK3CG</text></g>
<g id="c-PLCB1"><rect class="g" x="2651" y="2230" width="65.8" height="235"/><text class="n t3" transform="translate(2683.9 2347.5) rotate(-90) scale(0.68 1)">PLCB1</text></g>
<g id="c-PLCG2"><rect class="y" x="2716.8" y="2230" width="65.8" height="235"/><text class="n t3" transform="translate(2749.7 2347.5) rotate(-90) scale(0.68 1)">PLCG2</text></g>
<g id="c-PRKACA"><rect class="y" x="2782.6" y="2230" width="65.8" height="235"/><text class="n t3" transform="translate(2815.5 2347.5) rotate(-90) scale(0.68 1)">PRKACA</text></g>
<g id="c-PRKACB"><rect class="g" x="2848.4" y="2230" width="65.8" height="235"/><text class="n t3" transform="translate(2881.3 2347.5) rotate(-90) scale(0.68 1)">PRKACB</text></g>
<g id="c-PRKCB"><rect class="y" x="2914.2" y="2230" width="65.8" height="235"/><text class="n t3" transform="translate(2947.1 2347.5) rotate(-90) scale(0.68 1)">PRKCB</text></g>
<g id="c-PRKCD"><rect class="y" x="2980" y="2230" width="65.8" height="235"/><text class="n t3" transform="translate(3012.9 2347.5) rotate(-90) scale(0.68 1)">PRKCD</text></g>
<g id="c-PRKCZ"><rect class="g" x="3045.8" y="2230" width="65.8" height="235"/><text class="n t3" transform="translate(3078.7 2347.5) rotate(-90) scale(0.68 1)">PRKCZ</text></g>
<g id="c-PTK2B"><rect class="y" x="3111.6" y="2230" width="65.8" height="235"/><text class="n t3" transform="translate(3144.5 2347.5) rotate(-90) scale(0.68 1)">PTK2B</text></g>
<g id="c-PXN"><rect class="r" x="3177.4" y="2230" width="65.8" height="235"/><text class="n t3" transform="translate(3210.3 2347.5) rotate(-90) scale(0.68 1)">PXN</text></g>
<g id="c-RAC2"><rect class="y" x="3243.2" y="2230" width="65.8" height="235"/><text class="n t3" transform="translate(3276.1 2347.5) rotate(-90) scale(0.68 1)">RAC2</text></g>
<g id="c-RAP1A"><rect class="y" x="3309" y="2230" width="65.8" height="235"/><text class="n t3" transform="translate(3341.9 2347.5) rotate(-90) scale(0.68 1)">RAP1A</text></g>
<g id="c-RAP1B"><rect class="y" x="3374.8" y="2230" width="65.8" height="235"/><text class="n t3" transform="translate(3407.7 2347.5) rotate(-90) scale(0.68 1)">RAP1B</text></g>
<g id="c-RHOA"><rect class="y" x="3440.6" y="2230" width="65.8" height="235"/><text class="n t3" transform="translate(3473.5 2347.5) rotate(-90) scale(0.68 1)">RHOA</text></g>
<g id="c-ROCK1"><rect class="y" x="3506.4" y="2230" width="65.8" height="235"/><text class="n t3" transform="translate(3539.3 2347.5) rotate(-90) scale(0.68 1)">ROCK1</text></g>
<g id="c-ROCK2"><rect class="y" x="3572.2" y="2230" width="65.8" height="235"/><text class="n t3" transform="translate(3605.1 2347.5) rotate(-90) scale(0.68 1)">ROCK2</text></g>
<g id="c-SHC1"><rect class="y" x="3638" y="2230" width="65.8" height="235"/><text class="n t3" transform="translate(3670.9 2347.5) rotate(-90) scale(0.68 1)">SHC1</text></g>
<g id="c-SOS1"><rect class="g" x="3703.8" y="2230" width="65.8" height="235"/><text class="n t3" transform="translate(3736.7 2347.5) rotate(-90) scale(0.68 1)">SOS1</text></g>
<g id="c-SOS2"><rect class="y" x="3769.6" y="2230" width="65.8" height="235"/><text class="n t3" transform="translate(3802.5 2347.5) rotate(-90) scale(0.68 1)">SOS2</text></g>
<g id="c-STAT3"><rect class="y" x="3835.4" y="2230" width="65.8" height="235"/><text class="n t3" transform="translate(3868.3 2347.5) rotate(-90) scale(0.68 1)">STAT3</text></g>
<g id="c-XCL1"><rect class="y" x="3901.2" y="2230" width="65.8" height="235"/><text class="n t3" transform="translate(3934.1 2347.5) rotate(-90) scale(0.68 1)">XCL1</text></g>
<rect class="frame" x="19" y="2230" width="3948" height="235"/>
</g>

<g id="d-tlr">
<g id="d-CASP8"><rect class="y" x="403" y="2607" width="58.85" height="205"/><text class="n t4" transform="translate(432.4 2709.5) rotate(-90)">CASP8</text></g>
<g id="d-CD14"><rect class="r" x="461.85" y="2607" width="58.85" height="205"/><text class="n t4" transform="translate(491.3 2709.5) rotate(-90)">CD14</text></g>
<g id="d-CD40"><rect class="y" x="520.7" y="2607" width="58.85" height="205"/><text class="n t4" transform="translate(550.1 2709.5) rotate(-90)">CD40</text></g>
<g id="d-CD86"><rect class="y" x="579.55" y="2607" width="58.85" height="205"/><text class="n t4" transform="translate(609 2709.5) rotate(-90)">CD86</text></g>
<g id="d-CTSK"><rect class="r" x="638.4" y="2607" width="58.85" height="205"/><text class="n t4" transform="translate(667.8 2709.5) rotate(-90)">CTSK</text></g>
<g id="d-FADD"><rect class="y" x="697.25" y="2607" width="58.85" height="205"/><text class="n t4" transform="translate(726.7 2709.5) rotate(-90)">FADD</text></g>
<g id="d-FOS"><rect class="y" x="756.1" y="2607" width="58.85" height="205"/><text class="n t4" transform="translate(785.5 2709.5) rotate(-90)">FOS</text></g>
<g id="d-IFNAR1"><rect class="g" x="814.95" y="2607" width="58.85" height="205"/><text class="n t4" transform="translate(844.4 2709.5) rotate(-90)">IFNAR1</text></g>
<g id="d-IFNAR2"><rect class="y" x="873.8" y="2607" width="58.85" height="205"/><text class="n t4" transform="translate(903.2 2709.5) rotate(-90)">IFNAR2</text></g>
<g id="d-IL1B"><rect class="y" x="932.65" y="2607" width="58.85" height="205"/><text class="n t4" transform="translate(962.1 2709.5) rotate(-90)">IL1B</text></g>
<g id="d-IRAK1"><rect class="r" x="991.5" y="2607" width="58.85" height="205"/><text class="n t4" transform="translate(1020.9 2709.5) rotate(-90)">IRAK1</text></g>
<g id="d-IRF3"><rect class="r" x="1050.35" y="2607" width="58.85" height="205"/><text class="n t4" transform="translate(1079.8 2709.5) rotate(-90)">IRF3</text></g>
<g id="d-IRF5"><rect class="r" x="1109.2" y="2607" width="58.85" height="205"/><text class="n t4" transform="translate(1138.6 2709.5) rotate(-90)">IRF5</text></g>
<g id="d-IRF7"><rect class="r" x="1168.05" y="2607" width="58.85" height="205"/><text class="n t4" transform="translate(1197.5 2709.5) rotate(-90)">IRF7</text></g>
<g id="d-IRF9"><rect class="r" x="1226.9" y="2607" width="58.85" height="205"/><text class="n t4" transform="translate(1256.3 2709.5) rotate(-90)">IRF9</text></g>
<g id="d-JAK1"><rect class="g" x="1285.75" y="2607" width="58.85" height="205"/><text class="n t4" transform="translate(1315.2 2709.5) rotate(-90)">JAK1</text></g>
<g id="d-JUN"><rect class="y" x="1344.6" y="2607" width="58.85" height="205"/><text class="n t4" transform="translate(1374 2709.5) rotate(-90)">JUN</text></g>
<g id="d-LY96"><rect class="y" x="1403.45" y="2607" width="58.85" height="205"/><text class="n t4" transform="translate(1432.9 2709.5) rotate(-90)">LY96</text></g>
<g id="d-MAP2K2"><rect class="r" x="1462.3" y="2607" width="58.85" height="205"/><text class="n t4" transform="translate(1491.7 2709.5) rotate(-90)">MAP2K2</text></g>
<g id="d-MAP2K3"><rect class="r" x="1521.15" y="2607" width="58.85" height="205"/><text class="n t4" transform="translate(1550.6 2709.5) rotate(-90)">MAP2K3</text></g>
<g id="d-MAP2K4"><rect class="g" x="1580" y="2607" width="58.85" height="205"/><text class="n t4" transform="translate(1609.4 2709.5) rotate(-90)">MAP2K4</text></g>
<g id="d-MAP2K6"><rect class="g" x="1638.85" y="2607" width="58.85" height="205"/><text class="n t4" transform="translate(1668.3 2709.5) rotate(-90)">MAP2K6</text></g>
<g id="d-MAP2K7"><rect class="y" x="1697.7" y="2607" width="58.85" height="205"/><text class="n t4" transform="translate(1727.1 2709.5) rotate(-90)">MAP2K7</text></g>
<g id="d-MAP3K7"><rect class="y" x="1756.55" y="2607" width="58.85" height="205"/><text class="n t4" transform="translate(1786 2709.5) rotate(-90)">MAP3K7</text></g>
<g id="d-MAP3K8"><rect class="y" x="1815.4" y="2607" width="58.85" height="205"/><text class="n t4" transform="translate(1844.8 2709.5) rotate(-90)">MAP3K8</text></g>
<g id="d-MAPK11"><rect class="g" x="1874.25" y="2607" width="58.85" height="205"/><text class="n t4" transform="translate(1903.7 2709.5) rotate(-90)">MAPK11</text></g>
<g id="d-MAPK13"><rect class="r" x="1933.1" y="2607" width="58.85" height="205"/><text class="n t4" transform="translate(1962.5 2709.5) rotate(-90)">MAPK13</text></g>
<g id="d-MAPK3"><rect class="y" x="1991.95" y="2607" width="58.85" height="205"/><text class="n t4" transform="translate(2021.4 2709.5) rotate(-90)">MAPK3</text></g>
<g id="d-MAPK9"><rect class="g" x="2050.8" y="2607" width="58.85" height="205"/><text class="n t4" transform="translate(2080.2 2709.5) rotate(-90)">MAPK9</text></g>
<g id="d-MYD88"><rect class="y" x="2109.65" y="2607" width="58.85" height="205"/><text class="n t4" transform="translate(2139.1 2709.5) rotate(-90)">MYD88</text></g>
<g id="d-RIPK1"><rect class="y" x="2168.5" y="2607" width="58.85" height="205"/><text class="n t4" transform="translate(2197.9 2709.5) rotate(-90)">RIPK1</text></g>
<g id="d-SPP1"><rect class="r" x="2227.35" y="2607" width="58.85" height="205"/><text class="n t4" transform="translate(2256.8 2709.5) rotate(-90)">SPP1</text></g>
<g id="d-TAB1"><rect class="y" x="2286.2" y="2607" width="58.85" height="205"/><text class="n t4" transform="translate(2315.6 2709.5) rotate(-90)">TAB1</text></g>
<g id="d-TAB2"><rect class="y" x="2345.05" y="2607" width="58.85" height="205"/><text class="n t4" transform="translate(2374.5 2709.5) rotate(-90)">TAB2</text></g>
<g id="d-TBK1"><rect class="y" x="2403.9" y="2607" width="58.85" height="205"/><text class="n t4" transform="translate(2433.3 2709.5) rotate(-90)">TBK1</text></g>
<g id="d-TICAM1"><rect class="g" x="2462.75" y="2607" width="58.85" height="205"/><text class="n t4" transform="translate(2492.2 2709.5) rotate(-90)">TICAM1</text></g>
<g id="d-TICAM2"><rect class="y" x="2521.6" y="2607" width="58.85" height="205"/><text class="n t4" transform="translate(2551 2709.5) rotate(-90)">TICAM2</text></g>
<g id="d-TIRAP"><rect class="y" x="2580.45" y="2607" width="58.85" height="205"/><text class="n t4" transform="translate(2609.9 2709.5) rotate(-90)">TIRAP</text></g>
<g id="d-TLR1"><rect class="y" x="2639.3" y="2607" width="58.85" height="205"/><text class="n t4" transform="translate(2668.7 2709.5) rotate(-90)">TLR1</text></g>
<g id="d-TLR2"><rect class="r" x="2698.15" y="2607" width="58.85" height="205"/><text class="n t4" transform="translate(2727.6 2709.5) rotate(-90)">TLR2</text></g>
<g id="d-TLR3"><rect class="r" x="2757" y="2607" width="58.85" height="205"/><text class="n t4" transform="translate(2786.4 2709.5) rotate(-90)">TLR3</text></g>
<g id="d-TLR4"><rect class="r" x="2815.85" y="2607" width="58.85" height="205"/><text class="n t4" transform="translate(2845.3 2709.5) rotate(-90)">TLR4</text></g>
<g id="d-TLR5"><rect class="g" x="2874.7" y="2607" width="58.85" height="205"/><text class="n t4" transform="translate(2904.1 2709.5) rotate(-90)">TLR5</text></g>
<g id="d-TNF"><rect class="y" x="2933.55" y="2607" width="58.85" height="205"/><text class="n t4" transform="translate(2963 2709.5) rotate(-90)">TNF</text></g>
<g id="d-TOLLIP"><rect class="y" x="2992.4" y="2607" width="58.85" height="205"/><text class="n t4" transform="translate(3021.8 2709.5) rotate(-90)">TOLLIP</text></g>
<g id="d-TRAF3"><rect class="y" x="3051.25" y="2607" width="58.85" height="205"/><text class="n t4" transform="translate(3080.7 2709.5) rotate(-90)">TRAF3</text></g>
<g id="d-TRAF6"><rect class="y" x="3110.1" y="2607" width="58.85" height="205"/><text class="n t4" transform="translate(3139.5 2709.5) rotate(-90)">TRAF6</text></g>
<g id="d-TYK2"><rect class="y" x="3168.95" y="2607" width="58.85" height="205"/><text class="n t4" transform="translate(3198.4 2709.5) rotate(-90)">TYK2</text></g>
<rect class="frame" x="403" y="2607" width="2824.8" height="205"/>
</g>

<g id="d-com">
<g id="d-AKT1"><rect class="y" x="840" y="3602" width="68.3" height="204"/><text class="n t5" transform="translate(874.2 3704) rotate(-90) scale(0.75 1)">AKT1</text></g>
<g id="d-AKT2"><rect class="g" x="908.3" y="3602" width="68.3" height="204"/><text class="n t5" transform="translate(942.5 3704) rotate(-90) scale(0.75 1)">AKT2</text></g>
<g id="d-AKT3"><rect class="y" x="976.6" y="3602" width="68.3" height="204"/><text class="n t5" transform="translate(1010.8 3704) rotate(-90) scale(0.75 1)">AKT3</text></g>
<g id="d-CCL3"><rect class="r" x="1044.9" y="3602" width="68.3" height="204"/><text class="n t5" transform="translate(1079.1 3704) rotate(-90) scale(0.75 1)">CCL3</text></g>
<g id="d-CCL3L3"><rect class="y" x="1113.2" y="3602" width="68.3" height="204"/><text class="n t5" transform="translate(1147.4 3704) rotate(-90) scale(0.75 1)">CCL3L3</text></g>
<g id="d-CCL4L2"><rect class="y" x="1181.5" y="3602" width="68.3" height="204"/><text class="n t5" transform="translate(1215.7 3704) rotate(-90) scale(0.75 1)">CCL4L2</text></g>
<g id="d-CCL5"><rect class="y" x="1249.8" y="3602" width="68.3" height="204"/><text class="n t5" transform="translate(1284 3704) rotate(-90) scale(0.75 1)">CCL5</text></g>
<g id="d-CHUK"><rect class="y" x="1318.1" y="3602" width="68.3" height="204"/><text class="n t5" transform="translate(1352.3 3704) rotate(-90) scale(0.75 1)">CHUK</text></g>
<g id="d-CXCL10"><rect class="r" x="1386.4" y="3602" width="68.3" height="204"/><text class="n t5" transform="translate(1420.6 3704) rotate(-90) scale(0.75 1)">CXCL10</text></g>
<g id="d-CXCL11"><rect class="r" x="1454.7" y="3602" width="68.3" height="204"/><text class="n t5" transform="translate(1488.9 3704) rotate(-90) scale(0.75 1)">CXCL11</text></g>
<g id="d-CXCL9"><rect class="r" x="1523" y="3602" width="68.3" height="204"/><text class="n t5" transform="translate(1557.2 3704) rotate(-90) scale(0.75 1)">CXCL9</text></g>
<g id="d-IKBKB"><rect class="y" x="1591.3" y="3602" width="68.3" height="204"/><text class="n t5" transform="translate(1625.5 3704) rotate(-90) scale(0.75 1)">IKBKB</text></g>
<g id="d-IKBKG"><rect class="r" x="1659.6" y="3602" width="68.3" height="204"/><text class="n t5" transform="translate(1693.8 3704) rotate(-90) scale(0.75 1)">IKBKG</text></g>
<g id="d-MAP2K1"><rect class="y" x="1727.9" y="3602" width="68.3" height="204"/><text class="n t5" transform="translate(1762.1 3704) rotate(-90) scale(0.75 1)">MAP2K1</text></g>
<g id="d-MAPK1"><rect class="y" x="1796.2" y="3602" width="68.3" height="204"/><text class="n t5" transform="translate(1830.4 3704) rotate(-90) scale(0.75 1)">MAPK1</text></g>
<g id="d-MAPK10"><rect class="g" x="1864.5" y="3602" width="68.3" height="204"/><text class="n t5" transform="translate(1898.7 3704) rotate(-90) scale(0.75 1)">MAPK10</text></g>
<g id="d-NFKB1"><rect class="r" x="1932.8" y="3602" width="68.3" height="204"/><text class="n t5" transform="translate(1967 3704) rotate(-90) scale(0.75 1)">NFKB1</text></g>
<g id="d-NFKBIA"><rect class="r" x="2001.1" y="3602" width="68.3" height="204"/><text class="n t5" transform="translate(2035.3 3704) rotate(-90) scale(0.75 1)">NFKBIA</text></g>
<g id="d-PIK3CA"><rect class="y" x="2069.4" y="3602" width="68.3" height="204"/><text class="n t5" transform="translate(2103.6 3704) rotate(-90) scale(0.75 1)">PIK3CA</text></g>
<g id="d-PIK3CB"><rect class="y" x="2137.7" y="3602" width="68.3" height="204"/><text class="n t5" transform="translate(2171.9 3704) rotate(-90) scale(0.75 1)">PIK3CB</text></g>
<g id="d-PIK3CD"><rect class="y" x="2206" y="3602" width="68.3" height="204"/><text class="n t5" transform="translate(2240.2 3704) rotate(-90) scale(0.75 1)">PIK3CD</text></g>
<g id="d-PIK3R1"><rect class="g" x="2274.3" y="3602" width="68.3" height="204"/><text class="n t5" transform="translate(2308.5 3704) rotate(-90) scale(0.75 1)">PIK3R1</text></g>
<g id="d-PIK3R2"><rect class="y" x="2342.6" y="3602" width="68.3" height="204"/><text class="n t5" transform="translate(2376.8 3704) rotate(-90) scale(0.75 1)">PIK3R2</text></g>
<g id="d-PIK3R3"><rect class="y" x="2410.9" y="3602" width="68.3" height="204"/><text class="n t5" transform="translate(2445.1 3704) rotate(-90) scale(0.75 1)">PIK3R3</text></g>
<g id="d-RAC1"><rect class="r" x="2479.2" y="3602" width="68.3" height="204"/><text class="n t5" transform="translate(2513.4 3704) rotate(-90) scale(0.75 1)">RAC1</text></g>
<g id="d-RELA"><rect class="y" x="2547.5" y="3602" width="68.3" height="204"/><text class="n t5" transform="translate(2581.7 3704) rotate(-90) scale(0.75 1)">RELA</text></g>
<g id="d-STAT1"><rect class="r" x="2615.8" y="3602" width="68.3" height="204"/><text class="n t5" transform="translate(2650 3704) rotate(-90) scale(0.75 1)">STAT1</text></g>
<g id="d-STAT2"><rect class="y" x="2684.1" y="3602" width="68.3" height="204"/><text class="n t5" transform="translate(2718.3 3704) rotate(-90) scale(0.75 1)">STAT2</text></g>
<rect class="frame" x="840" y="3602" width="1912.4" height="204"/>
</g>

<g id="d-cch">
<g id="d-ADCY4"><rect class="g" x="13" y="4594" width="59.45" height="204"/><text class="n t6" transform="translate(42.7 4696) rotate(-90) scale(0.84 1)">ADCY4</text></g>
<g id="d-ADCY6"><rect class="y" x="72.45" y="4594" width="59.45" height="204"/><text class="n t6" transform="translate(102.2 4696) rotate(-90) scale(0.84 1)">ADCY6</text></g>
<g id="d-ADCY7"><rect class="y" x="131.9" y="4594" width="59.45" height="204"/><text class="n t6" transform="translate(161.6 4696) rotate(-90) scale(0.84 1)">ADCY7</text></g>
<g id="d-ADCY9"><rect class="y" x="191.35" y="4594" width="59.45" height="204"/><text class="n t6" transform="translate(221.1 4696) rotate(-90) scale(0.84 1)">ADCY9</text></g>
<g id="d-ARRB1"><rect class="y" x="250.8" y="4594" width="59.45" height="204"/><text class="n t6" transform="translate(280.5 4696) rotate(-90) scale(0.84 1)">ARRB1</text></g>
<g id="d-ARRB2"><rect class="y" x="310.25" y="4594" width="59.45" height="204"/><text class="n t6" transform="translate(340 4696) rotate(-90) scale(0.84 1)">ARRB2</text></g>
<g id="d-BAD"><rect class="y" x="369.7" y="4594" width="59.45" height="204"/><text class="n t6" transform="translate(399.4 4696) rotate(-90) scale(0.84 1)">BAD</text></g>
<g id="d-BCAR1"><rect class="r" x="429.15" y="4594" width="59.45" height="204"/><text class="n t6" transform="translate(458.9 4696) rotate(-90) scale(0.84 1)">BCAR1</text></g>
<g id="d-BRAF"><rect class="y" x="488.6" y="4594" width="59.45" height="204"/><text class="n t6" transform="translate(518.3 4696) rotate(-90) scale(0.84 1)">BRAF</text></g>
<g id="d-CCL15"><rect class="g" x="548.05" y="4594" width="59.45" height="204"/><text class="n t6" transform="translate(577.8 4696) rotate(-90) scale(0.84 1)">CCL15</text></g>
<g id="d-CCL16"><rect class="g" x="607.5" y="4594" width="59.45" height="204"/><text class="n t6" transform="translate(637.2 4696) rotate(-90) scale(0.84 1)">CCL16</text></g>
<g id="d-CCL17"><rect class="y" x="666.95" y="4594" width="59.45" height="204"/><text class="n t6" transform="translate(696.7 4696) rotate(-90) scale(0.84 1)">CCL17</text></g>
<g id="d-CCL18"><rect class="r" x="726.4" y="4594" width="59.45" height="204"/><text class="n t6" transform="translate(756.1 4696) rotate(-90) scale(0.84 1)">CCL18</text></g>
<g id="d-CCL19"><rect class="y" x="785.85" y="4594" width="59.45" height="204"/><text class="n t6" transform="translate(815.6 4696) rotate(-90) scale(0.84 1)">CCL19</text></g>
<g id="d-CCL24"><rect class="y" x="845.3" y="4594" width="59.45" height="204"/><text class="n t6" transform="translate(875 4696) rotate(-90) scale(0.84 1)">CCL24</text></g>
<g id="d-CCL28"><rect class="y" x="904.75" y="4594" width="59.45" height="204"/><text class="n t6" transform="translate(934.5 4696) rotate(-90) scale(0.84 1)">CCL28</text></g>
<g id="d-CCR1"><rect class="r" x="964.2" y="4594" width="59.45" height="204"/><text class="n t6" transform="translate(993.9 4696) rotate(-90) scale(0.84 1)">CCR1</text></g>
<g id="d-CXCL1"><rect class="y" x="1023.65" y="4594" width="59.45" height="204"/><text class="n t6" transform="translate(1053.4 4696) rotate(-90) scale(0.84 1)">CXCL1</text></g>
<g id="d-CXCL14"><rect class="y" x="1083.1" y="4594" width="59.45" height="204"/><text class="n t6" transform="translate(1112.8 4696) rotate(-90) scale(0.84 1)">CXCL14</text></g>
<g id="d-CXCL2"><rect class="y" x="1142.55" y="4594" width="59.45" height="204"/><text class="n t6" transform="translate(1172.3 4696) rotate(-90) scale(0.84 1)">CXCL2</text></g>
<g id="d-CXCR4"><rect class="y" x="1202" y="4594" width="59.45" height="204"/><text class="n t6" transform="translate(1231.7 4696) rotate(-90) scale(0.84 1)">CXCR4</text></g>
<g id="d-ELMO1"><rect class="y" x="1261.45" y="4594" width="59.45" height="204"/><text class="n t6" transform="translate(1291.2 4696) rotate(-90) scale(0.84 1)">ELMO1</text></g>
<g id="d-FOXO3"><rect class="y" x="1320.9" y="4594" width="59.45" height="204"/><text class="n t6" transform="translate(1350.6 4696) rotate(-90) scale(0.84 1)">FOXO3</text></g>
<g id="d-GNAI1"><rect class="y" x="1380.35" y="4594" width="59.45" height="204"/><text class="n t6" transform="translate(1410.1 4696) rotate(-90) scale(0.84 1)">GNAI1</text></g>
<g id="d-GNAI2"><rect class="y" x="1439.8" y="4594" width="59.45" height="204"/><text class="n t6" transform="translate(1469.5 4696) rotate(-90) scale(0.84 1)">GNAI2</text></g>
<g id="d-GNAI3"><rect class="y" x="1499.25" y="4594" width="59.45" height="204"/><text class="n t6" transform="translate(1529 4696) rotate(-90) scale(0.84 1)">GNAI3</text></g>
<g id="d-GNB2"><rect class="y" x="1558.7" y="4594" width="59.45" height="204"/><text class="n t6" transform="translate(1588.4 4696) rotate(-90) scale(0.84 1)">GNB2</text></g>
<g id="d-GNB4"><rect class="y" x="1618.15" y="4594" width="59.45" height="204"/><text class="n t6" transform="translate(1647.9 4696) rotate(-90) scale(0.84 1)">GNB4</text></g>
<g id="d-GNG10"><rect class="y" x="1677.6" y="4594" width="59.45" height="204"/><text class="n t6" transform="translate(1707.3 4696) rotate(-90) scale(0.84 1)">GNG10</text></g>
<g id="d-GNG13"><rect class="y" x="1737.05" y="4594" width="59.45" height="204"/><text class="n t6" transform="translate(1766.8 4696) rotate(-90) scale(0.84 1)">GNG13</text></g>
<g id="d-GNG2"><rect class="y" x="1796.5" y="4594" width="59.45" height="204"/><text class="n t6" transform="translate(1826.2 4696) rotate(-90) scale(0.84 1)">GNG2</text></g>
<g id="d-GNG5"><rect class="y" x="1855.95" y="4594" width="59.45" height="204"/><text class="n t6" transform="translate(1885.7 4696) rotate(-90) scale(0.84 1)">GNG5</text></g>
<g id="d-GNG7"><rect class="g" x="1915.4" y="4594" width="59.45" height="204"/><text class="n t6" transform="translate(1945.1 4696) rotate(-90) scale(0.84 1)">GNG7</text></g>
<g id="d-GNG8"><rect class="g" x="1974.85" y="4594" width="59.45" height="204"/><text class="n t6" transform="translate(2004.6 4696) rotate(-90) scale(0.84 1)">GNG8</text></g>
<g id="d-GRB2"><rect class="y" x="2034.3" y="4594" width="59.45" height="204"/><text class="n t6" transform="translate(2064 4696) rotate(-90) scale(0.84 1)">GRB2</text></g>
<g id="d-GRK5"><rect class="y" x="2093.75" y="4594" width="59.45" height="204"/><text class="n t6" transform="translate(2123.5 4696) rotate(-90) scale(0.84 1)">GRK5</text></g>
<g id="d-NCF1"><rect class="y" x="2153.2" y="4594" width="59.45" height="204"/><text class="n t6" transform="translate(2182.9 4696) rotate(-90) scale(0.84 1)">NCF1</text></g>
<g id="d-NFKBIB"><rect class="y" x="2212.65" y="4594" width="59.45" height="204"/><text class="n t6" transform="translate(2242.4 4696) rotate(-90) scale(0.84 1)">NFKBIB</text></g>
<g id="d-PARD3"><rect class="y" x="2272.1" y="4594" width="59.45" height="204"/><text class="n t6" transform="translate(2301.8 4696) rotate(-90) scale(0.84 1)">PARD3</text></g>
<g id="d-PIK3CG"><rect class="y" x="2331.55" y="4594" width="59.45" height="204"/><text class="n t6" transform="translate(2361.3 4696) rotate(-90) scale(0.84 1)">PIK3CG</text></g>
<g id="d-PLCB1"><rect class="g" x="2391" y="4594" width="59.45" height="204"/><text class="n t6" transform="translate(2420.7 4696) rotate(-90) scale(0.84 1)">PLCB1</text></g>
<g id="d-PLCG2"><rect class="y" x="2450.45" y="4594" width="59.45" height="204"/><text class="n t6" transform="translate(2480.2 4696) rotate(-90) scale(0.84 1)">PLCG2</text></g>
<g id="d-PRKACA"><rect class="y" x="2509.9" y="4594" width="59.45" height="204"/><text class="n t6" transform="translate(2539.6 4696) rotate(-90) scale(0.84 1)">PRKACA</text></g>
<g id="d-PRKACB"><rect class="g" x="2569.35" y="4594" width="59.45" height="204"/><text class="n t6" transform="translate(2599.1 4696) rotate(-90) scale(0.84 1)">PRKACB</text></g>
<g id="d-PRKCB"><rect class="y" x="2628.8" y="4594" width="59.45" height="204"/><text class="n t6" transform="translate(2658.5 4696) rotate(-90) scale(0.84 1)">PRKCB</text></g>
<g id="d-PRKCD"><rect class="y" x="2688.25" y="4594" width="59.45" height="204"/><text class="n t6" transform="translate(2718 4696) rotate(-90) scale(0.84 1)">PRKCD</text></g>
<g id="d-PRKCZ"><rect class="y" x="2747.7" y="4594" width="59.45" height="204"/><text class="n t6" transform="translate(2777.4 4696) rotate(-90) scale(0.84 1)">PRKCZ</text></g>
<g id="d-PTK2B"><rect class="g" x="2807.15" y="4594" width="59.45" height="204"/><text class="n t6" transform="translate(2836.9 4696) rotate(-90) scale(0.84 1)">PTK2B</text></g>
<g id="d-PXN"><rect class="r" x="2866.6" y="4594" width="59.45" height="204"/><text class="n t6" transform="translate(2896.3 4696) rotate(-90) scale(0.84 1)">PXN</text></g>
<g id="d-RAC2"><rect class="y" x="2926.05" y="4594" width="59.45" height="204"/><text class="n t6" transform="translate(2955.8 4696) rotate(-90) scale(0.84 1)">RAC2</text></g>
<g id="d-RAP1A"><rect class="r" x="2985.5" y="4594" width="59.45" height="204"/><text class="n t6" transform="translate(3015.2 4696) rotate(-90) scale(0.84 1)">RAP1A</text></g>
<g id="d-RAP1B"><rect class="r" x="3044.95" y="4594" width="59.45" height="204"/><text class="n t6" transform="translate(3074.7 4696) rotate(-90) scale(0.84 1)">RAP1B</text></g>
<g id="d-RHOA"><rect class="g" x="3104.4" y="4594" width="59.45" height="204"/><text class="n t6" transform="translate(3134.1 4696) rotate(-90) scale(0.84 1)">RHOA</text></g>
<g id="d-ROCK1"><rect class="y" x="3163.85" y="4594" width="59.45" height="204"/><text class="n t6" transform="translate(3193.6 4696) rotate(-90) scale(0.84 1)">ROCK1</text></g>
<g id="d-ROCK2"><rect class="y" x="3223.3" y="4594" width="59.45" height="204"/><text class="n t6" transform="translate(3253 4696) rotate(-90) scale(0.84 1)">ROCK2</text></g>
<g id="d-SHC1"><rect class="y" x="3282.75" y="4594" width="59.45" height="204"/><text class="n t6" transform="translate(3312.5 4696) rotate(-90) scale(0.84 1)">SHC1</text></g>
<g id="d-SOS1"><rect class="g" x="3342.2" y="4594" width="59.45" height="204"/><text class="n t6" transform="translate(3371.9 4696) rotate(-90) scale(0.84 1)">SOS1</text></g>
<g id="d-SOS2"><rect class="y" x="3401.65" y="4594" width="59.45" height="204"/><text class="n t6" transform="translate(3431.4 4696) rotate(-90) scale(0.84 1)">SOS2</text></g>
<g id="d-STAT3"><rect class="y" x="3461.1" y="4594" width="59.45" height="204"/><text class="n t6" transform="translate(3490.8 4696) rotate(-90) scale(0.84 1)">STAT3</text></g>
<g id="d-XCL1"><rect class="y" x="3520.55" y="4594" width="59.45" height="204"/><text class="n t6" transform="translate(3550.3 4696) rotate(-90) scale(0.84 1)">XCL1</text></g>
<rect class="frame" x="13" y="4594" width="3567" height="204"/>
</g>
</svg>
